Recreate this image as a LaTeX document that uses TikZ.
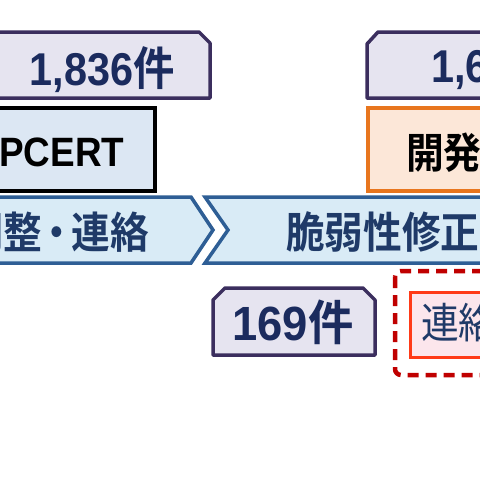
\documentclass[tikz,border=0pt]{standalone}
\usepackage{fontspec}
\setmainfont{Liberation Sans}
\newfontfamily\jp{Noto Sans CJK JP}[BoldFont={* Bold}]
\definecolor{tabline}{HTML}{3B2E5E}
\definecolor{tabfill}{HTML}{E6E4F0}
\definecolor{navy}{HTML}{1B2B5E}
\definecolor{jpfill}{HTML}{DCE7F3}
\definecolor{orng}{HTML}{E8761E}
\definecolor{peach}{HTML}{FCE7D8}
\definecolor{chevline}{HTML}{2E5E95}
\definecolor{chevfill}{HTML}{D9EBF6}
\definecolor{chevtext}{HTML}{1F3A68}
\definecolor{dred}{HTML}{C00000}
\definecolor{rorng}{HTML}{FF3A17}
\definecolor{pinkfill}{HTML}{FCE6EC}
\begin{document}
\begin{tikzpicture}[x=1pt,y=-1pt,
  tabbox/.style={draw=tabline,fill=tabfill,line width=3.5pt,line join=round},
  numtext/.style={inner sep=0pt,text=navy,xscale=0.9,font=\fontsize{46}{46}\selectfont\bfseries},
  chev/.style={draw=chevline,fill=chevfill,line width=3.5pt,line join=miter},
  chevlabel/.style={inner sep=0pt,text=chevtext,xscale=0.9,font=\fontsize{43}{43}\selectfont\jp\bfseries},
  boxlabel/.style={inner sep=0pt,text=black,xscale=0.9,font=\fontsize{42}{42}\selectfont\bfseries}]
\useasboundingbox (0,0) rectangle (480,480);
\clip (0,0) rectangle (480,480);
\fill[white] (0,0) rectangle (480,480);
% count tabs
\draw[tabbox] (-20,98) -- (-20,32) -- (199,32) -- (210,43) -- (210,98) -- cycle;
\node[numtext] (nA) at (102,70) {1,836{\jp 件}};
\draw[tabbox] (367,98) -- (367,44) -- (378,32) -- (520,32) -- (520,98) -- cycle;
\node[numtext,anchor=west] (nB) at (431,70) {1,6};
% organisation boxes
\draw[line width=4pt,fill=jpfill] (-20,108) rectangle (155,191);
\node[boxlabel,anchor=west,font=\fontsize{41}{41}\selectfont\bfseries] (jpc) at (-1,152) {PCERT};
\draw[draw=orng,fill=peach,line width=4pt] (368,108) rectangle (520,191);
\node[boxlabel,anchor=west,font=\fontsize{42}{42}\selectfont\jp\bfseries] (dev) at (406,153) {開発者};
% chevrons
\draw[chev] (-20,197) -- (191,197) -- (213,230) -- (191,263) -- (-20,263) -- cycle;
\draw[chev] (205,197) -- (520,197) -- (520,263) -- (205,263) -- (228,230) -- cycle;
\node[chevlabel,anchor=east] (c1) at (149,232) {調整\kern-5pt・\kern-5pt連絡};
\node[chevlabel,anchor=west] (c2) at (286,232) {脆弱性修正};
% 169 tab
\draw[tabbox] (213,355) -- (213,300) -- (225,288) -- (363,288) -- (375,300) -- (375,355) -- cycle;
\node[numtext,xscale=1.05,font=\fontsize{48}{48}\selectfont\bfseries] (n169) at (293,322) {169{\jp 件}};
% red dashed group
\draw[dred,line width=4.5pt,dash pattern=on 11pt off 7pt,rounded corners=6pt] (395,271) rectangle (540,375);
\draw[draw=rorng,fill=pinkfill,line width=3pt] (410,292) rectangle (520,357);
\node[inner sep=0pt,anchor=west,text=chevtext,xscale=0.9,font=\fontsize{42}{42}\selectfont\jp] (rl) at (421,323) {連絡};
\end{tikzpicture}
\end{document}
